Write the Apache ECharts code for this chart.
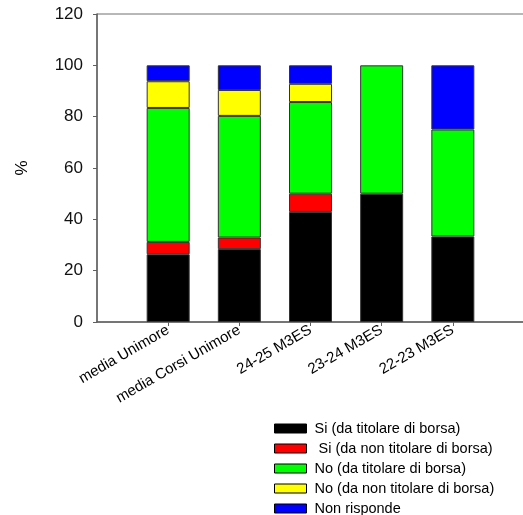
<!DOCTYPE html>
<html>
<head>
<meta charset="utf-8">
<script src="https://cdn.jsdelivr.net/npm/echarts@6/dist/echarts.min.js"></script>
<style>html,body{margin:0;padding:0;background:#fff;overflow:hidden}#c{width:523px;height:515px}</style>
</head>
<body>
<div id="c"></div>
<script>
const categories = ['media Unimore', 'media Corsi Unimore', '24-25 M3ES', '23-24 M3ES', '22-23 M3ES'];
const seriesNames = ['Si (da titolare di borsa)', ' Si (da non titolare di borsa)', 'No (da titolare di borsa)', 'No (da non titolare di borsa)', 'Non risponde'];
const siTitolare = [26.4, 28.4, 42.9, 50.0, 33.3];
const siNonTitolare = [4.8, 4.5, 7.1, 0, 0];
const noTitolare = [52.2, 47.4, 35.7, 50.0, 41.7];
const noNonTitolare = [10.4, 10.1, 7.1, 0, 0];
const nonRisponde = [6.2, 9.6, 7.2, 0, 25.0];
const yTicks = [0, 20, 40, 60, 80, 100, 120];
const colors = ['#000000', '#ff0000', '#00ff00', '#ffff00', '#0000ff'];

const allValues = [siTitolare, siNonTitolare, noTitolare, noNonTitolare, nonRisponde];
const axisCats = [''].concat(categories, ['']);
const font = "'Liberation Sans', Arial, sans-serif";

const series = allValues.map((vals, i) => ({
  name: seriesNames[i],
  type: 'bar',
  stack: 'total',
  barWidth: 43,
  data: [null].concat(vals.map(v => v === 0 ? null : v), [null]),
  itemStyle: { color: colors[i], borderColor: '#333', borderWidth: 1 },
  emphasis: { disabled: true }
}));

const chart = echarts.init(document.getElementById('c'));
chart.setOption({
  animation: false,
  backgroundColor: '#fff',
  grid: { left: 97, width: 427, top: 14, height: 308, outerBoundsMode: 'none', containLabel: false, show: true, borderColor: '#707070', borderWidth: 1, backgroundColor: 'transparent' },
  xAxis: {
    type: 'category',
    data: axisCats,
    boundaryGap: false,
    axisLine: { lineStyle: { color: '#606060', width: 1.5 } },
    axisTick: { show: true, length: 4, interval: (idx, val) => val !== '', lineStyle: { color: '#606060' } },
    axisLabel: { rotate: 30, fontSize: 15, fontFamily: font, color: '#000', margin: 7, interval: 0 },
    splitLine: { show: false }
  },
  yAxis: {
    type: 'value',
    min: yTicks[0],
    max: yTicks[yTicks.length - 1],
    interval: 20,
    name: '%',
    nameLocation: 'middle',
    nameGap: 66,
    nameTextStyle: { fontSize: 17, fontFamily: font, color: '#000' },
    axisLine: { show: true, lineStyle: { color: '#606060', width: 1.5 } },
    axisTick: { show: true, length: 4, lineStyle: { color: '#606060' } },
    axisLabel: { fontSize: 17, fontFamily: font, color: '#111', margin: 14 },
    splitLine: { show: false }
  },
  legend: {
    orient: 'vertical',
    left: 274,
    top: 421,
    height: 110,
    padding: 0,
    itemWidth: 32,
    itemHeight: 9,
    itemGap: 5,
    icon: 'rect',
    itemStyle: { borderColor: '#000', borderWidth: 1 },
    textStyle: { fontSize: 14.5, fontFamily: font, color: '#000', lineHeight: 15, padding: [0, 0, 0, 3] },
    data: seriesNames
  },
  series: series
});
</script>
</body>
</html>
